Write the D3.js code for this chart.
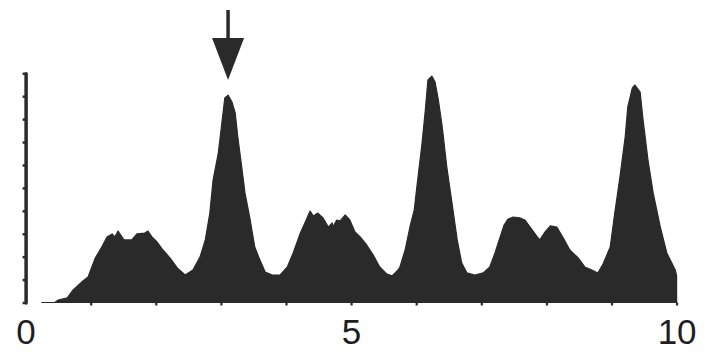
<!DOCTYPE html>
<html>
<head>
<meta charset="utf-8">
<script src="https://cdn.jsdelivr.net/npm/d3@7"></script>
<style>
  html, body { margin: 0; padding: 0; background: #fff; }
  svg { display: block; }
</style>
</head>
<body>
<svg id="chart" width="705" height="352"></svg>
<script>
// ---- data ----
const xs = [0.25,0.45,0.50,0.64,0.73,0.88,0.96,1.07,1.17,1.25,1.33,1.37,1.42,1.48,1.51,1.63,1.71,1.83,1.88,1.94,2.02,2.11,2.22,2.33,2.45,2.57,2.68,2.76,2.83,2.88,2.96,3.02,3.06,3.11,3.17,3.22,3.26,3.32,3.37,3.45,3.52,3.60,3.68,3.79,3.91,4.02,4.11,4.22,4.29,4.37,4.42,4.49,4.57,4.65,4.71,4.72,4.78,4.83,4.91,4.98,5.06,5.14,5.24,5.34,5.44,5.55,5.63,5.72,5.75,5.83,5.91,5.97,6.01,6.09,6.14,6.18,6.24,6.29,6.34,6.40,6.47,6.55,6.63,6.70,6.78,6.90,7.03,7.13,7.21,7.29,7.35,7.41,7.49,7.59,7.67,7.75,7.86,7.90,7.98,8.06,8.16,8.26,8.36,8.49,8.59,8.70,8.79,8.87,8.98,9.05,9.13,9.21,9.25,9.32,9.36,9.44,9.48,9.56,9.64,9.75,9.85,9.98,10.0,10.0];
const ys = [0,0,0.11,0.20,0.55,0.94,1.11,1.94,2.42,2.86,2.99,2.86,3.12,2.86,2.73,2.73,2.99,3.03,3.12,2.86,2.64,2.29,1.94,1.51,1.20,1.42,1.99,2.73,3.90,5.34,6.52,7.96,8.92,9.05,8.75,8.27,7.22,5.91,4.78,3.60,2.42,1.85,1.33,1.20,1.20,1.55,2.16,3.03,3.47,3.99,3.77,3.90,3.69,3.29,3.47,3.29,3.60,3.56,3.82,3.60,3.08,2.86,2.51,2.07,1.55,1.24,1.16,1.42,1.55,2.29,3.38,4.04,5.04,6.96,8.40,9.71,9.88,9.62,8.84,7.66,5.91,4.34,2.73,1.72,1.29,1.20,1.29,1.55,2.16,2.86,3.38,3.64,3.73,3.69,3.60,3.29,2.86,2.73,3.08,3.34,3.29,2.81,2.29,1.94,1.55,1.42,1.29,1.68,2.42,3.90,5.48,7.22,8.53,9.36,9.49,9.18,8.09,6.22,4.78,3.29,2.16,1.42,1.16,0];
const yTicks = [0,1,2,3,4,5,6,7,8,9,10];
const xTicks = [1,2,3,4,5,6,7,8,9,10];
const xLabels = [0,5,10];
const arrowAt = 3.11;

// ---- layout ----
const svg = d3.select("#chart");
const color = "#2a2a2a";
const x = d3.scaleLinear().domain([0, 10]).range([25.6, 676.6]);
const y = d3.scaleLinear().domain([0, 10]).range([302.5, 73.3]);

const data = xs.map((d, i) => ({x: d, y: ys[i]}));

// area
svg.append("path")
  .datum(data)
  .attr("d", d3.area().x(d => x(d.x)).y0(y(0)).y1(d => y(d.y)))
  .attr("fill", color)
  .attr("stroke", color)
  .attr("stroke-width", 1.2)
  .attr("stroke-linejoin", "round");

// x ticks (no domain line)
const gx = svg.append("g")
  .attr("transform", `translate(0,${y(0)})`)
  .call(d3.axisBottom(x).tickValues(xTicks).tickSize(3).tickFormat(""));
gx.select(".domain").remove();
gx.selectAll(".tick line").attr("stroke", color).attr("stroke-width", 2.2);

// x labels
const gl = svg.append("g")
  .attr("transform", `translate(0,${y(0)})`)
  .call(d3.axisBottom(x).tickValues(xLabels).tickSize(0).tickPadding(16.5).tickFormat(d3.format("d")));
gl.select(".domain").remove();
gl.selectAll(".tick text")
  .attr("fill", "#1e1e1e")
  .style("font-family", "'Liberation Sans', Arial, Helvetica, sans-serif")
  .style("font-size", "35px");

// y axis
const gy = svg.append("g")
  .attr("transform", `translate(${x(0)},0)`)
  .call(d3.axisLeft(y).tickValues(yTicks).tickSize(3).tickSizeOuter(0).tickFormat(""));
gy.select(".domain")
  .attr("stroke", color)
  .attr("stroke-width", 3.5)
  .attr("stroke-linecap", "round");
gy.selectAll(".tick line").attr("stroke", color).attr("stroke-width", 2.5);

// arrow annotation
const ax = x(arrowAt);
svg.append("line")
  .attr("x1", ax).attr("x2", ax)
  .attr("y1", 10).attr("y2", 40)
  .attr("stroke", color).attr("stroke-width", 3.5);
svg.append("path")
  .attr("d", `M${ax - 16},38 L${ax + 16},38 L${ax},80 Z`)
  .attr("fill", color);
</script>
</body>
</html>
